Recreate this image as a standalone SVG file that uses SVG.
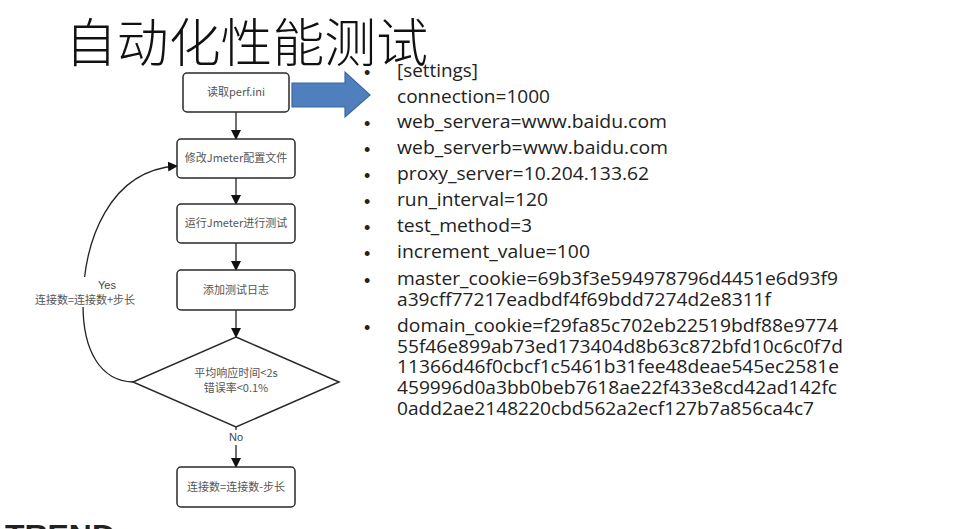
<svg xmlns="http://www.w3.org/2000/svg" width="977" height="529" viewBox="0 0 977 529">
<style>
.box{fill:#fff;stroke:#2a2a2a;stroke-width:1.5}
.nt{font-family:"Noto Sans CJK SC","Liberation Sans",sans-serif;font-size:11px;fill:#555;text-anchor:middle}
.ln{fill:none;stroke:#222;stroke-width:1.3}
.li{font-family:"Open Sans","Liberation Sans",sans-serif;font-size:18px;fill:#222}
.bu{font-family:"Liberation Sans",sans-serif;font-size:18px;fill:#222}
</style>
<defs>
<marker id="ah" markerWidth="10" markerHeight="10" refX="9" refY="5" orient="auto" markerUnits="userSpaceOnUse">
<path d="M0,0 L10,5 L0,10 Z" fill="#111"/>
</marker>
</defs>
<rect width="977" height="529" fill="#fff"/>
<text x="65" y="62" font-size="52" fill="#111" textLength="363" lengthAdjust="spacingAndGlyphs" style="font-family:'Noto Sans CJK SC',sans-serif;font-weight:300">自动化性能测试</text>

<g id="connectors">
<line class="ln" x1="236" y1="112" x2="236" y2="139" marker-end="url(#ah)"/>
<line class="ln" x1="236" y1="178" x2="236" y2="204" marker-end="url(#ah)"/>
<line class="ln" x1="236" y1="243" x2="236" y2="270" marker-end="url(#ah)"/>
<line class="ln" x1="236" y1="310" x2="236" y2="337" marker-end="url(#ah)"/>
<line class="ln" x1="236" y1="427" x2="236" y2="430"/>
<line class="ln" x1="236" y1="445" x2="236" y2="467" marker-end="url(#ah)"/>
<path class="ln" d="M133,382 C100,381 83,350 83,305 C83,240 110,170 177,166" marker-end="url(#ah)"/>
<rect x="30" y="277" width="110" height="30" fill="#fff"/>
<text x="107" y="289" class="nt" style="font-family:'Liberation Sans',sans-serif;fill:#444">Yes</text>
<text x="85" y="304" class="nt">连接数=连接数+步长</text>
<text x="236" y="441" class="nt" style="font-family:'Liberation Sans',sans-serif;fill:#444">No</text>
</g>

<g id="n1"><rect class="box" x="183" y="73" width="106" height="39" rx="4"/><text class="nt" x="236" y="96">读取perf.ini</text></g>
<g id="n2"><rect class="box" x="177" y="139" width="118" height="39" rx="4"/><text class="nt" x="236" y="162">修改Jmeter配置文件</text></g>
<g id="n3"><rect class="box" x="177" y="204" width="118" height="39" rx="4"/><text class="nt" x="236" y="227">运行Jmeter进行测试</text></g>
<g id="n4"><rect class="box" x="177" y="270" width="118" height="40" rx="4"/><text class="nt" x="236" y="294">添加测试日志</text></g>
<g id="n5"><path class="box" d="M236,337 L339,382 L236,427 L133,382 Z"/><text class="nt" x="236" y="377">平均响应时间&lt;2s</text><text class="nt" x="236" y="392">错误率&lt;0.1%</text></g>
<g id="n6"><rect class="box" x="177" y="467" width="118" height="40" rx="4"/><text class="nt" x="236" y="491">连接数=连接数-步长</text></g>

<g id="bigarrow"><path d="M292,83 L345,83 L345,72 L370,95 L345,117 L345,107 L292,107 Z" fill="#4F7FBD" stroke="#3B68A3" stroke-width="1.2"/></g>

<g id="list">
<text class="bu" x="364" y="79">•</text><text class="li" x="397" y="77" textLength="81" lengthAdjust="spacingAndGlyphs">[settings]</text>
<text class="li" x="397" y="103" textLength="153" lengthAdjust="spacingAndGlyphs">connection=1000</text>
<text class="bu" x="364" y="130">•</text><text class="li" x="397" y="128" textLength="270" lengthAdjust="spacingAndGlyphs">web_servera=www.baidu.com</text>
<text class="bu" x="364" y="156">•</text><text class="li" x="397" y="154" textLength="271" lengthAdjust="spacingAndGlyphs">web_serverb=www.baidu.com</text>
<text class="bu" x="364" y="182">•</text><text class="li" x="397" y="180" textLength="252" lengthAdjust="spacingAndGlyphs">proxy_server=10.204.133.62</text>
<text class="bu" x="364" y="208">•</text><text class="li" x="397" y="206" textLength="151" lengthAdjust="spacingAndGlyphs">run_interval=120</text>
<text class="bu" x="364" y="234">•</text><text class="li" x="397" y="232" textLength="135" lengthAdjust="spacingAndGlyphs">test_method=3</text>
<text class="bu" x="364" y="260">•</text><text class="li" x="397" y="258" textLength="193" lengthAdjust="spacingAndGlyphs">increment_value=100</text>
<text class="bu" x="364" y="287">•</text><text class="li" x="397" y="285" textLength="441" lengthAdjust="spacingAndGlyphs">master_cookie=69b3f3e594978796d4451e6d93f9</text>
<text class="li" x="397" y="306" textLength="374" lengthAdjust="spacingAndGlyphs">a39cff77217eadbdf4f69bdd7274d2e8311f</text>
<text class="bu" x="364" y="334">•</text><text class="li" x="397" y="332" textLength="441" lengthAdjust="spacingAndGlyphs">domain_cookie=f29fa85c702eb22519bdf88e9774</text>
<text class="li" x="397" y="353" textLength="446" lengthAdjust="spacingAndGlyphs">55f46e899ab73ed173404d8b63c872bfd10c6c0f7d</text>
<text class="li" x="397" y="373" textLength="442" lengthAdjust="spacingAndGlyphs">11366d46f0cbcf1c5461b31fee48deae545ec2581e</text>
<text class="li" x="397" y="394" textLength="440" lengthAdjust="spacingAndGlyphs">459996d0a3bb0beb7618ae22f433e8cd42ad142fc</text>
<text class="li" x="397" y="415" textLength="417" lengthAdjust="spacingAndGlyphs">0add2ae2148220cbd562a2ecf127b7a856ca4c7</text>
</g>
<text x="5" y="545" font-family="Liberation Sans, sans-serif" font-size="30" font-weight="bold" fill="#222" textLength="110" lengthAdjust="spacingAndGlyphs">TREND</text>
</svg>
